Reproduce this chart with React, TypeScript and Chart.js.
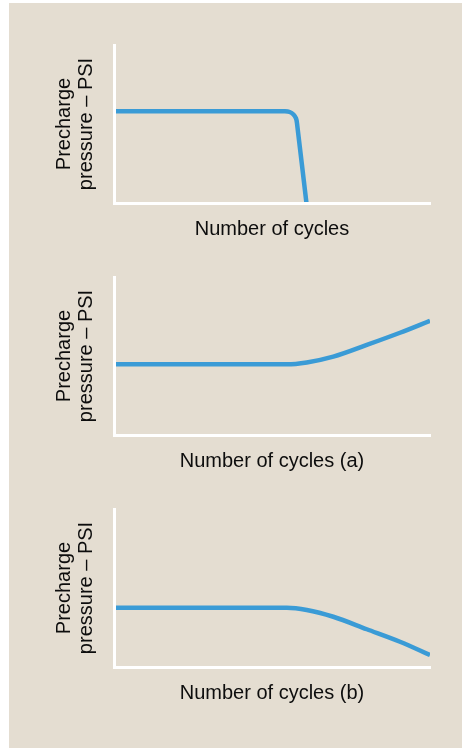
import React, { useEffect, useRef } from "react";
import { Chart, registerables } from "chart.js";

Chart.register(...registerables);

// Panel 1: pressure drops off sharply
const cycles1 = [0, 54.1, 55.6, 56.8, 57.6, 57.9, 60.9];
const pressure1 = [58.0, 58.0, 57.6, 56.0, 53.5, 50.6, 0];

// Panel (a): pressure rises
const cyclesA = [0, 54.7, 61.0, 69.4, 80.0, 90.5, 100];
const pressureA = [44.7, 44.7, 45.9, 49.6, 57.0, 64.7, 72.3];

// Panel (b): pressure falls gradually
const cyclesB = [0, 54.7, 61.0, 69.4, 80.0, 90.5, 100];
const pressureB = [37.5, 37.5, 36.1, 31.8, 23.9, 16.0, 7.6];

const xTitles = ["Number of cycles", "Number of cycles (a)", "Number of cycles (b)"];
const yTitle = ["Precharge", "pressure \u2013 PSI"];

const LINE = "#3a9bd6";
const TEXT = "#0d0d0d";
const BG = "#e4ddd1";
const FONT = "'Liberation Sans', Arial, Helvetica, sans-serif";

const panels = [
  { xs: cycles1, ys: pressure1, smooth: false, title: xTitles[0] },
  { xs: cyclesA, ys: pressureA, smooth: true, title: xTitles[1] },
  { xs: cyclesB, ys: pressureB, smooth: true, title: xTitles[2] },
];

function makeConfig(p: { xs: number[]; ys: number[]; smooth: boolean; title: string }): any {
  const font = { family: FONT, size: 20, lineHeight: 1.1 };
  return {
    type: "line",
    data: {
      datasets: [
        {
          data: p.xs.map((x, i) => ({ x, y: p.ys[i] })),
          borderColor: LINE,
          borderWidth: 4.5,
          pointRadius: 0,
          borderCapStyle: "butt",
          borderJoinStyle: "round",
          tension: p.smooth ? 0 : 0.15,
          cubicInterpolationMode: p.smooth ? "monotone" : "default",
          fill: false,
        },
      ],
    },
    options: {
      responsive: false,
      animation: false,
      events: [],
      layout: { padding: { top: 42, right: 32, bottom: 8, left: 0 } },
      plugins: { legend: { display: false }, tooltip: { enabled: false }, title: { display: false } },
      scales: {
        x: {
          type: "linear",
          min: 0,
          max: 100,
          ticks: { display: false },
          grid: { display: false },
          border: { display: true, color: "#ffffff", width: 3, z: 1 },
          title: { display: true, text: p.title, color: TEXT, font, padding: 0 },
          afterFit: (s: any) => {
            s.height = 37;
          },
        },
        y: {
          type: "linear",
          min: 0,
          max: 100,
          ticks: { display: false },
          grid: { display: false },
          border: { display: true, color: "#ffffff", width: 3, z: 1 },
          title: { display: true, text: yTitle, color: TEXT, font, padding: { top: 44, bottom: 0 } },
          afterFit: (s: any) => {
            s.width = 105;
          },
        },
      },
    },
  };
}

export default function App() {
  const refs = [useRef<HTMLCanvasElement>(null), useRef<HTMLCanvasElement>(null), useRef<HTMLCanvasElement>(null)];

  useEffect(() => {
    const charts = panels.map((p, i) => new Chart(refs[i].current as HTMLCanvasElement, makeConfig(p)));
    return () => charts.forEach((c) => c.destroy());
  }, []);

  return (
    <div
      style={{
        position: "fixed",
        left: 9,
        top: 3,
        right: 0,
        bottom: 0,
        background: BG,
        overflow: "hidden",
      }}
    >
      {panels.map((_, i) => (
        <canvas
          key={i}
          ref={refs[i]}
          width={453}
          height={245}
          style={{ position: "absolute", left: 0, top: 232 * i, display: "block" }}
        />
      ))}
    </div>
  );
}
